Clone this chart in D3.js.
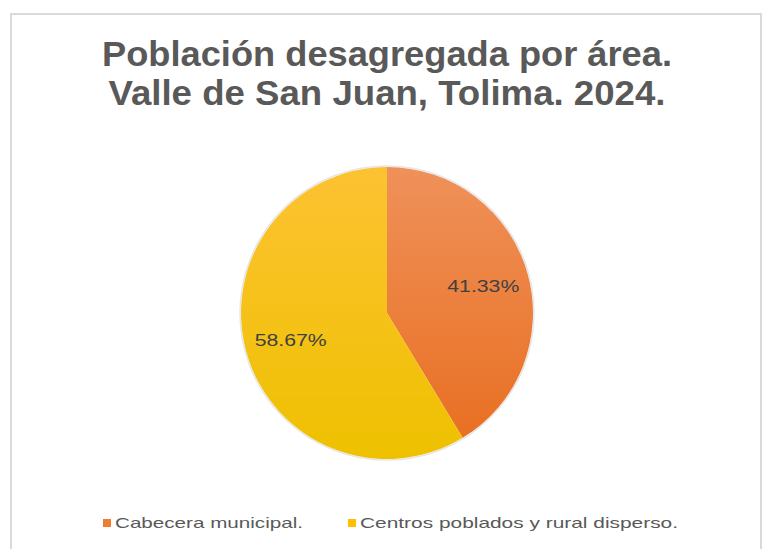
<!DOCTYPE html>
<html>
<head>
<meta charset="utf-8">
<script src="https://cdn.jsdelivr.net/npm/d3@7"></script>
<style>
  body { margin: 0; background: #fff; }
  svg { display: block; font-family: "Liberation Sans", Arial, sans-serif; }
</style>
</head>
<body>
<div id="chart"></div>
<script>
var categories = ["Cabecera municipal.", "Centros poblados y rural disperso."];
var values = [41.33, 58.67];
var labels = ["41.33%", "58.67%"];
var titleLines = ["Población desagregada por área.", "Valle de San Juan, Tolima. 2024."];

var width = 767, height = 549;
var cx = 387, cy = 313, radius = 146;

var svg = d3.select("#chart").append("svg")
    .attr("width", width)
    .attr("height", height);

// chart frame
svg.append("rect")
    .attr("x", 11).attr("y", 14)
    .attr("width", 750).attr("height", 560)
    .attr("fill", "#fff")
    .attr("stroke", "#d9d9d9")
    .attr("stroke-width", 2);

// title
svg.append("g").selectAll("text")
    .data(titleLines)
    .enter().append("text")
      .attr("x", cx)
      .attr("y", function(d, i){ return 66 + i * 39; })
      .attr("text-anchor", "middle")
      .attr("font-size", 35)
      .attr("font-weight", "bold")
      .attr("fill", "#595959")
      .attr("textLength", function(d, i){ return i == 0 ? 570 : 557; })
      .attr("lengthAdjust", "spacingAndGlyphs")
      .text(function(d){ return d; });

// gradients
var defs = svg.append("defs");
var grads = [["#ef915a", "#e86d1e"], ["#fdc232", "#eec100"]];
grads.forEach(function(g, i){
  var lg = defs.append("linearGradient")
      .attr("id", "grad" + i)
      .attr("gradientUnits", "userSpaceOnUse")
      .attr("x1", 0).attr("y1", -radius)
      .attr("x2", 0).attr("y2", radius);
  lg.append("stop").attr("offset", "0%").attr("stop-color", g[0]);
  lg.append("stop").attr("offset", "100%").attr("stop-color", g[1]);
});

var color = d3.scaleOrdinal().domain(categories).range(["#ed7d31", "#ffc000"]);

var pie = d3.pie().sort(null)(values);
var arc = d3.arc().innerRadius(0).outerRadius(radius);
var labelArc = d3.arc().innerRadius(100).outerRadius(100);

var g = svg.append("g").attr("transform", "translate(" + cx + "," + cy + ")");

g.append("circle")
    .attr("r", radius + 1)
    .attr("fill", "none")
    .attr("stroke", "#e6e6e6")
    .attr("stroke-width", 1.5);

g.selectAll("path")
    .data(pie)
    .enter().append("path")
      .attr("d", arc)
      .attr("fill", function(d, i){ return "url(#grad" + i + ")"; });

g.selectAll("text")
    .data(pie)
    .enter().append("text")
      .attr("transform", function(d){ return "translate(" + labelArc.centroid(d) + ")"; })
      .attr("dy", "0.35em")
      .attr("text-anchor", "middle")
      .attr("font-size", 17)
      .attr("fill", "#404040")
      .attr("textLength", 72)
      .attr("lengthAdjust", "spacingAndGlyphs")
      .text(function(d, i){ return labels[i]; });

// legend
var legendX = [103, 348];
var legendW = [188, 318];
var legend = svg.append("g").selectAll("g")
    .data(categories)
    .enter().append("g")
      .attr("transform", function(d, i){ return "translate(" + legendX[i] + ",519)"; });

legend.append("rect")
    .attr("width", 8).attr("height", 8)
    .attr("fill", function(d){ return color(d); });

legend.append("text")
    .attr("x", 12)
    .attr("y", 9)
    .attr("font-size", 15)
    .attr("fill", "#595959")
    .attr("textLength", function(d, i){ return legendW[i]; })
    .attr("lengthAdjust", "spacingAndGlyphs")
    .text(function(d){ return d; });
</script>
</body>
</html>
